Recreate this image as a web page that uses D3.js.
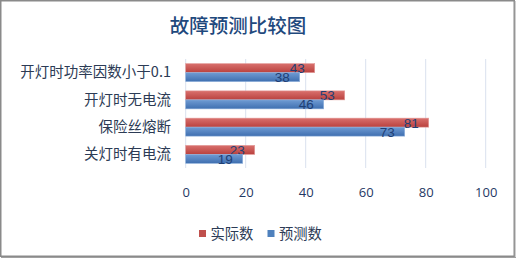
<!DOCTYPE html>
<html><head><meta charset="utf-8">
<script src="https://cdn.jsdelivr.net/npm/d3@7"></script>
<style>body{margin:0;background:#fff}svg{display:block}</style>
</head><body>
<script>
const categories = ["开灯时功率因数小于0.1", "开灯时无电流", "保险丝熔断", "关灯时有电流"];
const actual = [43, 53, 81, 23];
const predicted = [38, 46, 73, 19];
const seriesNames = ["实际数", "预测数"];
const ticks = [0, 20, 40, 60, 80, 100];
const title = "故障预测比较图";

const W = 516, H = 258;
const svg = d3.select("body").append("svg").attr("width", W).attr("height", H);
const defs = svg.append("defs");
function grad(id, c1, c2) {
  const g = defs.append("linearGradient").attr("id", id).attr("x1", 0).attr("y1", 0).attr("x2", 0).attr("y2", 1);
  g.append("stop").attr("offset", "0%").attr("stop-color", c1);
  g.append("stop").attr("offset", "100%").attr("stop-color", c2);
}
grad("gRed", "#d9706d", "#b9413e");
grad("gBlue", "#6f9bd3", "#3f6fb0");
const colors = ["url(#gRed)", "url(#gBlue)"];
const swatch = ["#c0504d", "#4f81bd"];

svg.append("rect").attr("x", 0.75).attr("y", 0.75).attr("width", 513.5).attr("height", 255.5)
  .attr("fill", "#fff").attr("stroke", "#8a8a8a").attr("stroke-width", 1.5);
svg.append("line").attr("x1", 515).attr("x2", 515).attr("y1", 1).attr("y2", 258).attr("stroke", "#a0a0a0").attr("stroke-width", 1);
svg.append("line").attr("x1", 1).attr("x2", 516).attr("y1", 257.5).attr("y2", 257.5).attr("stroke", "#a0a0a0").attr("stroke-width", 1);

const font = "'Noto Sans CJK SC', 'Noto Sans', sans-serif";
const numFont = "'Open Sans', 'Noto Sans', sans-serif";
const valFont = "'Liberation Sans', 'Open Sans', sans-serif";

svg.append("text").attr("x", 238).attr("y", 33).attr("text-anchor", "middle")
  .attr("font-family", font).attr("font-size", 19.5).attr("font-weight", 500).attr("fill", "#1f497d").text(title);

const x = d3.scaleLinear().domain([0, 100]).range([185.7, 485.7]);
const y = d3.scaleBand().domain(categories).range([59, 168]).paddingInner(0.34).paddingOuter(0.17);
const sub = d3.scaleBand().domain([0, 1]).range([0, y.bandwidth()]);

// gridlines
svg.append("g").selectAll("line").data(ticks).join("line")
  .attr("x1", d => x(d)).attr("x2", d => x(d)).attr("y1", 59).attr("y2", 168)
  .attr("stroke", "#d9e1ee").attr("stroke-width", 1);

// axis
const ax = svg.append("g").attr("transform", "translate(0,168)")
  .call(d3.axisBottom(x).tickValues(ticks).tickSize(0).tickPadding(20).tickFormat(d3.format("d")));
ax.select(".domain").remove();
ax.selectAll("text").attr("font-family", numFont).attr("font-size", 13).attr("fill", "#1f3864");

// category labels
const ay = svg.append("g").attr("transform", "translate(185,0)")
  .call(d3.axisLeft(y).tickSize(0).tickPadding(14));
ay.select(".domain").remove();
ay.selectAll("text").attr("font-family", font).attr("font-size", 14.5).attr("fill", "#2c3b55");

const data = [actual, predicted];
data.forEach((vals, si) => {
  const g = svg.append("g");
  g.selectAll("rect").data(vals).join("rect")
    .attr("x", x(0)).attr("y", (d, i) => y(categories[i]) + sub(si))
    .attr("width", d => x(d) - x(0)).attr("height", sub.bandwidth())
    .attr("fill", colors[si]).attr("stroke", si === 0 ? "#e39a98" : "#8fb1dc").attr("stroke-width", 0.6);
  g.selectAll("text").data(vals).join("text")
    .attr("x", d => x(d) - 10).attr("y", (d, i) => y(categories[i]) + sub(si) + sub.bandwidth() / 2 + 5)
    .attr("text-anchor", "end").attr("font-family", valFont).attr("font-size", 13.5)
    .attr("fill", "#1f3f75").text(d => d);
});

// legend
const lg = svg.append("g");
const lx = [199, 267.5];
seriesNames.forEach((n, i) => {
  lg.append("rect").attr("x", lx[i]).attr("y", 230).attr("width", 7).attr("height", 7).attr("fill", swatch[i]);
  lg.append("text").attr("x", lx[i] + 11.5).attr("y", 238.5).attr("font-family", font).attr("font-size", 14.3)
    .attr("fill", "#2c3b55").text(n);
});
</script>
</body></html>
